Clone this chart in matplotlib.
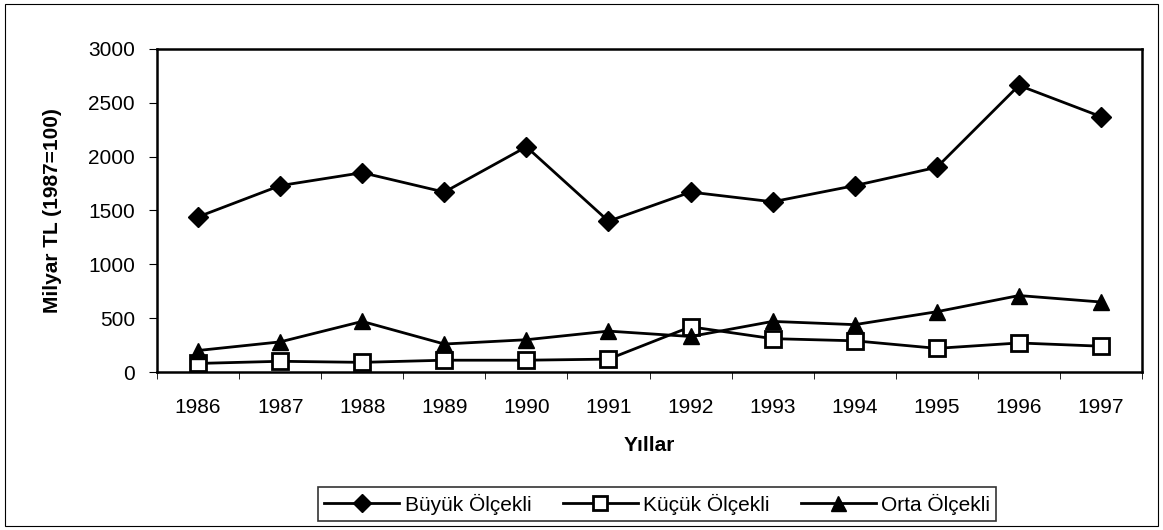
import numpy as np
import matplotlib.pyplot as plt
from matplotlib.patches import Rectangle

plt.rcParams['font.family'] = ['Liberation Sans', 'DejaVu Sans']

years = ['1986', '1987', '1988', '1989', '1990', '1991',
         '1992', '1993', '1994', '1995', '1996', '1997']
buyuk = [1440, 1730, 1850, 1670, 2090, 1400, 1670, 1580, 1730, 1900, 2660, 2370]
kucuk = [80, 100, 90, 110, 110, 120, 420, 310, 290, 220, 270, 240]
orta = [200, 280, 470, 260, 300, 380, 330, 470, 440, 560, 710, 650]

fig = plt.figure(figsize=(11.63, 5.30), dpi=100)
ax = fig.add_axes([0.135, 0.298, 0.847, 0.610])

x = np.arange(len(years))
ax.plot(x, buyuk, color='black', lw=2, marker='D', ms=10, label='Büyük Ölçekli')
ax.plot(x, kucuk, color='black', lw=2, marker='s', ms=11, mfc='white', mew=2,
        label='Küçük Ölçekli')
ax.plot(x, orta, color='black', lw=2, marker='^', ms=12, label='Orta Ölçekli')

ax.set_xlim(-0.5, len(years) - 0.5)
ax.set_ylim(0, 3000)
ax.set_yticks(range(0, 3001, 500))
ax.set_xticks(x)
ax.set_xticklabels(years)
ax.set_xticks(np.arange(-0.5, len(years), 1), minor=True)
ax.tick_params(axis='x', which='major', length=0, pad=18.5, labelsize=15)
ax.tick_params(axis='x', which='minor', length=5, direction='out')
ax.tick_params(axis='y', length=6, direction='out', labelsize=15, pad=10)
for s in ax.spines.values():
    s.set_linewidth(1.8)

ax.set_ylabel('Milyar TL (1987=100)', fontsize=15, fontweight='bold', labelpad=19)
ax.set_xlabel('Yıllar', fontsize=15, fontweight='bold', labelpad=14)

leg = fig.legend(loc='center', bbox_to_anchor=(0.565, 0.049), ncol=3,
                 fontsize=15, frameon=True, fancybox=False, edgecolor='black',
                 handlelength=3.6, columnspacing=1.5, handletextpad=0.25,
                 borderpad=0.3, markerscale=0.9)
leg.get_frame().set_linewidth(1.2)

fig.patches.append(Rectangle((0.004, 0.008), 0.992, 0.984, transform=fig.transFigure,
                             fill=False, edgecolor='black', lw=0.8))

fig.savefig('out.png', dpi=100)
